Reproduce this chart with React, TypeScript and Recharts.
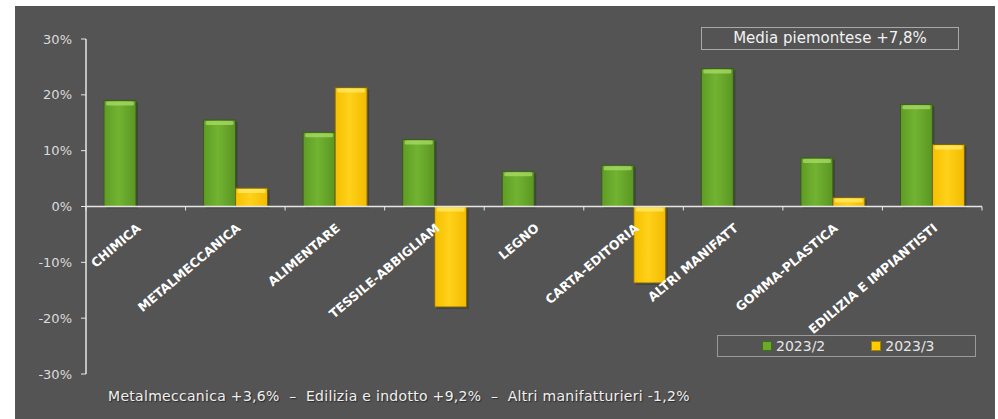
import * as React from 'react';
import { BarChart, Bar, XAxis, YAxis, ReferenceLine } from 'recharts';

const categories = [
  'CHIMICA',
  'METALMECCANICA',
  'ALIMENTARE',
  'TESSILE-ABBIGLIAM',
  'LEGNO',
  'CARTA-EDITORIA',
  'ALTRI MANIFATT',
  'GOMMA-PLASTICA',
  'EDILIZIA E IMPIANTISTI',
];
const q2Values = [19.0, 15.5, 13.3, 12.0, 6.3, 7.4, 24.7, 8.7, 18.3];
const q3Values: (number | null)[] = [null, 3.3, 21.3, -18.0, null, -13.7, null, 1.6, 11.1];
const yTicks = [-30, -20, -10, 0, 10, 20, 30];

const seriesNames = ['2023/2', '2023/3'];
const mediaLabel = 'Media piemontese +7,8%';
const footnote = 'Metalmeccanica +3,6%  \u2013  Edilizia e indotto +9,2%  \u2013  Altri manifatturieri -1,2%';

const data = categories.map((name, i) => ({ name, q2: q2Values[i], q3: q3Values[i] }));

// layout of the plot area
const W = 998;
const H = 419;
const M = { top: 39, right: 16, bottom: 44, left: 26 };
const Y_AXIS_W = 60;
const X_AXIS_H = 1;
const PLOT_LEFT = M.left + Y_AXIS_W;
const PLOT_W = W - PLOT_LEFT - M.right;
const PLOT_H = H - M.top - M.bottom - X_AXIS_H;
const ZERO_Y = M.top + PLOT_H / 2;
const BAND = PLOT_W / categories.length;

const FONT = '"DejaVu Sans", "Open Sans", sans-serif';
const AXIS_COLOR = '#e6e6e6';

function CategoryTick(props: any) {
  const { x, index, payload } = props;
  const left = x - BAND / 2;
  const isLast = index === categories.length - 1;
  const ax = x + 6;
  const ay = ZERO_Y + 23;
  return (
    <g>
      <line x1={left} x2={left} y1={ZERO_Y} y2={ZERO_Y + 4} stroke={AXIS_COLOR} />
      {isLast && <line x1={left + BAND} x2={left + BAND} y1={ZERO_Y} y2={ZERO_Y + 4} stroke={AXIS_COLOR} />}
      <text
        x={ax}
        y={ay}
        textAnchor="end"
        transform={`rotate(-40 ${ax} ${ay})`}
        fill="#ffffff"
        fontFamily={FONT}
        fontWeight={700}
        fontSize={12.5}
      >
        {payload.value}
      </text>
    </g>
  );
}

function makeShape(light: string, edge: string) {
  return (props: any) => {
    const { x, y, width, height, fill } = props;
    if (!width || height === undefined || height === null) return null;
    const top = height >= 0 ? y : y + height;
    const h = Math.abs(height);
    return (
      <g>
        <rect x={x + 2} y={top + 2} width={width} height={h} fill="#2e2e2e" opacity={0.45} />
        <rect x={x} y={top} width={width} height={h} fill={fill} stroke={edge} strokeWidth={1} />
        <rect x={x + 2} y={top + 1} width={width - 4} height={Math.min(4, h - 1)} fill={light} opacity={0.8} rx={1.5} />
      </g>
    );
  };
}

const greenShape = makeShape('#a6d864', '#3a5a1c');
const yellowShape = makeShape('#ffe866', '#7a6410');

function LegendBox() {
  const items = [
    { label: seriesNames[0], color: '#6aab2c', edge: '#3f6e17' },
    { label: seriesNames[1], color: '#ffcc00', edge: '#a88400' },
  ];
  return (
    <div
      style={{
        position: 'absolute',
        left: 717,
        top: 335,
        width: 257,
        height: 20,
        border: '1px solid #9a9a9a',
        display: 'flex',
        alignItems: 'center',
        fontFamily: FONT,
        fontSize: 14,
        color: '#e6e6e6',
      }}
    >
      {items.map((it, i) => (
        <div key={it.label} style={{ display: 'flex', alignItems: 'center', marginLeft: i === 0 ? 44 : 46 }}>
          <span style={{ width: 8, height: 8, background: it.color, border: `1px solid ${it.edge}`, marginRight: 4 }} />
          <span>{it.label}</span>
        </div>
      ))}
    </div>
  );
}

export default function App() {
  return (
    <div style={{ position: 'absolute', left: 0, top: 0, width: W, height: H, background: '#ffffff', overflow: 'hidden' }}>
      <div style={{ position: 'absolute', left: 15, top: 6, width: 980, height: 413, background: '#545454' }} />
      <div style={{ position: 'absolute', left: 0, top: 0 }}>
        <BarChart width={W} height={H} data={data} margin={M} barSize={32} barGap={0}>
          <defs>
            <linearGradient id="gGreen" x1="0" y1="0" x2="1" y2="0">
              <stop offset="0%" stopColor="#5e9c24" />
              <stop offset="45%" stopColor="#72b332" />
              <stop offset="100%" stopColor="#5a9622" />
            </linearGradient>
            <linearGradient id="gYellow" x1="0" y1="0" x2="1" y2="0">
              <stop offset="0%" stopColor="#f5c000" />
              <stop offset="45%" stopColor="#ffd11a" />
              <stop offset="100%" stopColor="#f2bb00" />
            </linearGradient>
          </defs>
          <XAxis dataKey="name" axisLine={false} tickLine={false} tick={<CategoryTick />} interval={0} height={X_AXIS_H} />
          <YAxis
            domain={[-30, 30]}
            ticks={yTicks}
            width={Y_AXIS_W}
            tickFormatter={(v: number) => `${v}%`}
            axisLine={{ stroke: AXIS_COLOR, strokeWidth: 1.5 }}
            tickLine={{ stroke: AXIS_COLOR }}
            tickSize={5}
            tick={{ fill: '#dcdcdc', fontSize: 13, fontFamily: FONT }}
            tickMargin={9}
          />
          <Bar dataKey="q2" name={seriesNames[0]} fill="url(#gGreen)" shape={greenShape} isAnimationActive={false} />
          <Bar dataKey="q3" name={seriesNames[1]} fill="url(#gYellow)" shape={yellowShape} isAnimationActive={false} />
          <ReferenceLine y={0} stroke={AXIS_COLOR} strokeWidth={1.5} />
        </BarChart>
      </div>
      <LegendBox />
      <div
        style={{
          position: 'absolute',
          left: 701,
          top: 27,
          width: 256,
          height: 21,
          border: '1px solid #a8a8a8',
          color: '#f2f2f2',
          fontFamily: FONT,
          fontSize: 15,
          lineHeight: '21px',
          textAlign: 'center',
        }}
      >
        {mediaLabel}
      </div>
      <div
        style={{
          position: 'absolute',
          left: 108,
          top: 388,
          color: '#f0f0f0',
          fontFamily: FONT,
          fontSize: 14,
          letterSpacing: 0.3,
          whiteSpace: 'pre',
          textShadow: '1px 1px 1px #2a2a2a',
        }}
      >
        {footnote}
      </div>
    </div>
  );
}
